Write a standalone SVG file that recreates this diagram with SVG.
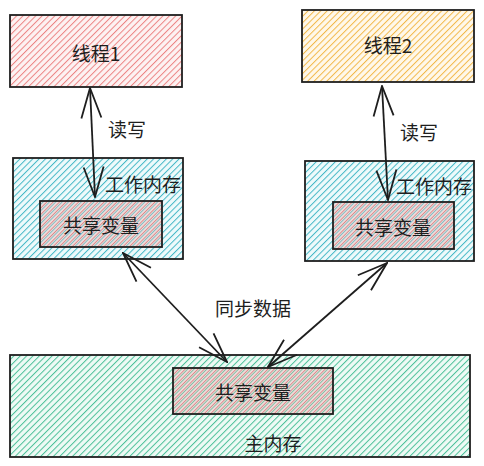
<svg xmlns="http://www.w3.org/2000/svg" width="484" height="466" viewBox="0 0 484 466">
<style>
.box{stroke:#1e1e1e;stroke-width:1.8}
.t{font-family:"Noto Sans CJK SC","Noto Sans",sans-serif;font-size:19px;fill:#1e1e1e;dominant-baseline:central}
.c{text-anchor:middle}
.ln{fill:none;stroke:#1e1e1e;stroke-width:1.8;marker-start:url(#ah);marker-end:url(#ah)}
</style>
<defs>
<pattern id="hPink" patternUnits="userSpaceOnUse" width="4.5" height="4.5" patternTransform="rotate(45)">
<rect width="4.5" height="4.5" fill="#fdf2f2"/><line x1="0" y1="0" x2="0" y2="4.5" stroke="#ec8484" stroke-width="2"/></pattern>
<pattern id="hYellow" patternUnits="userSpaceOnUse" width="4.5" height="4.5" patternTransform="rotate(45)">
<rect width="4.5" height="4.5" fill="#fff8ea"/><line x1="0" y1="0" x2="0" y2="4.5" stroke="#f2b84a" stroke-width="2"/></pattern>
<pattern id="hCyan" patternUnits="userSpaceOnUse" width="4.5" height="4.5" patternTransform="rotate(45)">
<rect width="4.5" height="4.5" fill="#eefafb"/><line x1="0" y1="0" x2="0" y2="4.5" stroke="#45b8c6" stroke-width="2"/></pattern>
<pattern id="hGreen" patternUnits="userSpaceOnUse" width="4.5" height="4.5" patternTransform="rotate(45)">
<rect width="4.5" height="4.5" fill="#eefaf5"/><line x1="0" y1="0" x2="0" y2="4.5" stroke="#4cc099" stroke-width="2"/></pattern>
<pattern id="hPinkCyan" patternUnits="userSpaceOnUse" width="4.5" height="4.5" patternTransform="rotate(45)">
<rect width="4.5" height="4.5" fill="#f0dcdc"/><line x1="0" y1="0" x2="0" y2="4.5" stroke="#d97f7f" stroke-width="1.6"/><line x1="2.25" y1="0" x2="2.25" y2="4.5" stroke="#7fbfc4" stroke-width="1"/></pattern>
<pattern id="hPinkGreen" patternUnits="userSpaceOnUse" width="4.5" height="4.5" patternTransform="rotate(45)">
<rect width="4.5" height="4.5" fill="#f0dcdc"/><line x1="0" y1="0" x2="0" y2="4.5" stroke="#d97f7f" stroke-width="1.6"/><line x1="2.25" y1="0" x2="2.25" y2="4.5" stroke="#7fc0a4" stroke-width="1"/></pattern>
<marker id="ah" markerUnits="userSpaceOnUse" markerWidth="32" markerHeight="24" viewBox="0 0 32 24" refX="31" refY="12" orient="auto-start-reverse">
<path d="M1,2 L31,12 L1,22" fill="none" stroke="#1e1e1e" stroke-width="1.8"/></marker>
</defs>

<g id="thread1">
<rect class="box" x="10" y="15" width="172" height="72" fill="url(#hPink)"/>
<text class="t c" x="96" y="52">线程1</text>
</g>
<g id="thread2">
<rect class="box" x="302" y="10" width="172" height="72" fill="url(#hYellow)"/>
<text class="t c" x="388" y="44">线程2</text>
</g>
<g id="work1">
<rect class="box" x="13" y="158" width="170" height="101" fill="url(#hCyan)"/>
<text class="t" x="105" y="183">工作内存</text>
</g>
<g id="shared1">
<rect class="box" x="40" y="201" width="122" height="46" fill="url(#hPinkCyan)"/>
<text class="t c" x="101" y="224">共享变量</text>
</g>
<g id="work2">
<rect class="box" x="305" y="161" width="169" height="100" fill="url(#hCyan)"/>
<text class="t" x="396" y="185">工作内存</text>
</g>
<g id="shared2">
<rect class="box" x="333" y="202" width="121" height="47" fill="url(#hPinkCyan)"/>
<text class="t c" x="393" y="226">共享变量</text>
</g>
<g id="main">
<rect class="box" x="10" y="355" width="460" height="102" fill="url(#hGreen)"/>
<text class="t c" x="273" y="442">主内存</text>
</g>
<g id="sharedMain">
<rect class="box" x="173" y="368" width="160" height="46" fill="url(#hPinkGreen)"/>
<text class="t c" x="253" y="391">共享变量</text>
</g>

<g id="connectors">
<line class="ln" x1="90" y1="88" x2="95" y2="197"/>
<line class="ln" x1="382" y1="86" x2="388" y2="200"/>
<line class="ln" x1="123" y1="253" x2="227" y2="362"/>
<line class="ln" x1="387" y1="263" x2="268" y2="367"/>
<text class="t" x="108" y="128">读写</text>
<text class="t" x="400" y="131">读写</text>
<text class="t" x="215" y="307">同步数据</text>
</g>
</svg>
